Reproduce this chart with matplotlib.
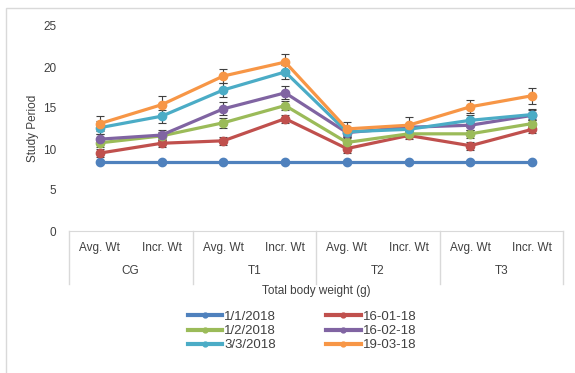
import matplotlib
matplotlib.use("Agg")
import matplotlib.pyplot as plt
from matplotlib.patches import Rectangle
from matplotlib.lines import Line2D

plt.rcParams['font.family'] = ['Liberation Sans', 'DejaVu Sans']

groups = ["CG", "T1", "T2", "T3"]
subcats = ["Avg. Wt", "Incr. Wt"]
series_names = ["1/1/2018", "16-01-18", "1/2/2018", "16-02-18", "3/3/2018", "19-03-18"]
colors = ["#4F81BD", "#C0504D", "#9BBB59", "#8064A2", "#4BACC6", "#F79646"]

s_0101 = [8.4, 8.4, 8.4, 8.4, 8.4, 8.4, 8.4, 8.4]
s_1601 = [9.5, 10.7, 11.0, 13.7, 10.05, 11.65, 10.4, 12.4]
s_0102 = [10.75, 11.6, 13.2, 15.3, 10.8, 11.85, 11.85, 13.1]
s_1602 = [11.2, 11.7, 14.9, 16.85, 12.0, 12.65, 12.9, 14.1]
s_0303 = [12.6, 14.0, 17.2, 19.4, 12.1, 12.4, 13.5, 14.2]
s_1903 = [13.1, 15.4, 18.9, 20.6, 12.45, 12.9, 15.15, 16.5]

e_0101 = [0, 0, 0, 0, 0, 0, 0, 0]
e_1601 = [0.5, 0.5, 0.5, 0.5, 0.5, 0.4, 0.5, 0.4]
e_0102 = [0.5, 0.5, 0.6, 0.5, 0.5, 0.4, 0.5, 0.5]
e_1602 = [0.6, 0.6, 0.8, 0.8, 0.5, 0.4, 0.6, 0.6]
e_0303 = [0.8, 0.8, 0.9, 0.9, 0.6, 0.5, 0.6, 0.7]
e_1903 = [0.9, 1.1, 0.9, 1.0, 0.9, 1.0, 0.8, 1.0]

series = [s_0101, s_1601, s_0102, s_1602, s_0303, s_1903]
errors = [e_0101, e_1601, e_0102, e_1602, e_0303, e_1903]

W, H = 575, 373
fig = plt.figure(figsize=(W / 100, H / 100), dpi=100)
fig.patches.append(Rectangle((6 / W, -0.1), 1.2, 1 - 8 / H + 0.1, transform=fig.transFigure,
                             fill=False, edgecolor="#D9D9D9", linewidth=1))

ax = fig.add_axes([69 / W, 1 - 231 / H, (563 - 69) / W, (231 - 26) / H])
n = len(groups) * len(subcats)
x = [i + 0.5 for i in range(n)]

handles = {}
for name, vals, errs, c in zip(series_names, series, errors, colors):
    ax.errorbar(x, vals, yerr=errs, color=c, linewidth=2.3, marker="o", markersize=6,
                ecolor="#404040", elinewidth=0.8, capsize=3, capthick=0.8, zorder=3)
    handles[name] = Line2D([], [], color=c, linewidth=3, marker="o", markersize=3.5)

ax.set_xlim(0, n)
ax.set_ylim(0, 25)
ax.set_yticks([0, 5, 10, 15, 20, 25])
ax.tick_params(axis="y", length=0, labelsize=8.5, colors="#404040", pad=9)
ax.set_xticks([])
for sp in ["top", "right", "left"]:
    ax.spines[sp].set_visible(False)
ax.spines["bottom"].set_color("#D9D9D9")
ax.set_ylabel("Study Period", fontsize=8.5, color="#404040", labelpad=3)

trans = ax.get_xaxis_transform()
for b in range(0, n + 1, 2):
    ax.plot([b, b], [0, -53 / 205], transform=trans, color="#D9D9D9", linewidth=1, clip_on=False)
for i, xi in enumerate(x):
    ax.text(xi, -17 / 205, subcats[i % 2], transform=trans, ha="center", va="center",
            fontsize=8.5, color="#404040")
for g, name in enumerate(groups):
    ax.text(2 * g + 1, -40 / 205, name, transform=trans, ha="center", va="center",
            fontsize=8.5, color="#404040")
ax.text(n / 2, -60 / 205, "Total body weight (g)", transform=trans, ha="center", va="center",
        fontsize=8.5, color="#404040")

order = ["1/1/2018", "1/2/2018", "3/3/2018", "16-01-18", "16-02-18", "19-03-18"]
fig.legend([handles[k] for k in order], order,
           loc="center", bbox_to_anchor=(302 / W, 1 - 331 / H), ncol=2, frameon=False,
           fontsize=9.5, handlelength=2.6, handletextpad=0.15, columnspacing=3.8,
           labelspacing=0.15, labelcolor="#404040", borderpad=0)

fig.savefig("out.png", dpi=100)
